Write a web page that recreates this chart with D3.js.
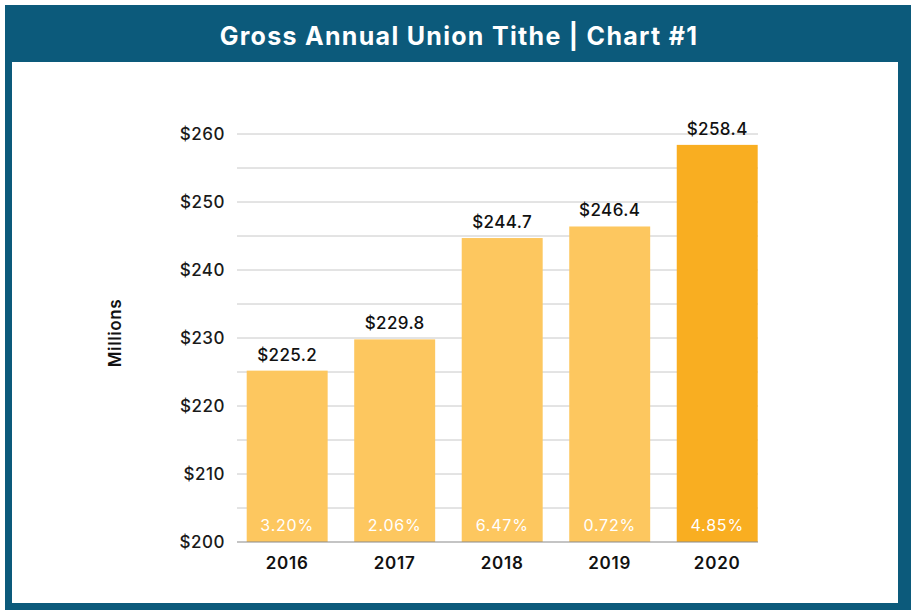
<!DOCTYPE html>
<html>
<head>
<meta charset="utf-8">
<script src="https://cdn.jsdelivr.net/npm/d3@7"></script>
<style>
  body { margin: 0; background: #fff; }
  text { font-family: "Inter", "Open Sans", sans-serif; }
</style>
</head>
<body>
<div id="chart"></div>
<script>
// data
var years = ["2016", "2017", "2018", "2019", "2020"];
var tithe = [225.2, 229.8, 244.7, 246.4, 258.4];
var growth = ["3.20%", "2.06%", "6.47%", "0.72%", "4.85%"];
var yTicks = [200, 210, 220, 230, 240, 250, 260];
var gridTicks = [200, 205, 210, 215, 220, 225, 230, 235, 240, 245, 250, 255, 260];

const W = 911, H = 610;
const plot = {left: 237, right: 758, top: 134, bottom: 542};

var svg = d3.select("#chart").append("svg")
    .attr("width", W)
    .attr("height", H);

// frame + header
svg.append("rect")
    .attr("x", 5).attr("y", 5)
    .attr("width", W - 5).attr("height", H - 5)
    .attr("fill", "#0c5a7b");

svg.append("rect")
    .attr("x", 12).attr("y", 62)
    .attr("width", 886).attr("height", 541)
    .attr("fill", "#fff");

svg.append("text")
    .attr("x", 459).attr("y", 45)
    .attr("text-anchor", "middle")
    .attr("fill", "#fff")
    .style("font-size", "25px")
    .style("font-weight", 700)
    .style("letter-spacing", "1.3px")
    .text("Gross Annual Union Tithe | Chart #1");

var x = d3.scaleBand()
    .domain(years)
    .range([246.7, 757.7])
    .paddingInner(0.247)
    .paddingOuter(0);

var y = d3.scaleLinear()
    .domain([200, 260])
    .range([plot.bottom, plot.top]);

// gridlines
svg.append("g")
  .selectAll("line")
  .data(gridTicks.slice(1))
  .enter().append("line")
    .attr("x1", plot.left).attr("x2", plot.right)
    .attr("y1", function(d) { return y(d); })
    .attr("y2", function(d) { return y(d); })
    .attr("stroke", "#c8c8c8")
    .attr("stroke-width", 1);

// y tick labels
svg.append("g")
  .selectAll("text")
  .data(yTicks)
  .enter().append("text")
    .attr("x", 225)
    .attr("y", function(d) { return y(d); })
    .attr("dy", "0.35em")
    .attr("text-anchor", "end")
    .attr("fill", "#1a1a1a")
    .style("font-size", "17px")
    .style("font-weight", 500)
    .style("letter-spacing", "0.5px")
    .text(function(d) { return "$" + d; });

// bars
var bars = svg.append("g")
  .selectAll("g")
  .data(years)
  .enter().append("g");

bars.append("rect")
    .attr("x", function(d) { return x(d); })
    .attr("width", x.bandwidth())
    .attr("y", function(d, i) { return y(tithe[i]); })
    .attr("height", function(d, i) { return y(200) - y(tithe[i]); })
    .attr("fill", function(d, i) { return i == years.length - 1 ? "#f9ae21" : "#fdc75f"; });

// value above bar
bars.append("text")
    .attr("x", function(d) { return x(d) + x.bandwidth() / 2; })
    .attr("y", function(d, i) { return y(tithe[i]) - 10; })
    .attr("text-anchor", "middle")
    .attr("fill", "#111")
    .style("font-size", "17px")
    .style("font-weight", 500)
    .style("letter-spacing", "0.4px")
    .text(function(d, i) { return "$" + tithe[i].toFixed(1); });

// growth percent inside bar
bars.append("text")
    .attr("x", function(d) { return x(d) + x.bandwidth() / 2; })
    .attr("y", 531)
    .attr("text-anchor", "middle")
    .attr("fill", "#fff")
    .style("font-size", "16px")
    .style("font-weight", 400)
    .style("letter-spacing", "0.8px")
    .text(function(d, i) { return growth[i]; });

// x axis baseline
svg.append("line")
    .attr("x1", plot.left).attr("x2", plot.right)
    .attr("y1", y(200)).attr("y2", y(200))
    .attr("stroke", "#8a8a8a")
    .attr("stroke-width", 1.2);

// year labels
svg.append("g")
  .selectAll("text")
  .data(years)
  .enter().append("text")
    .attr("x", function(d) { return x(d) + x.bandwidth() / 2; })
    .attr("y", 569)
    .attr("text-anchor", "middle")
    .attr("fill", "#111")
    .style("font-size", "17px")
    .style("font-weight", 600)
    .style("letter-spacing", "0.8px")
    .text(function(d) { return d; });

// y axis title
svg.append("text")
    .attr("transform", "translate(121,333) rotate(-90)")
    .attr("text-anchor", "middle")
    .attr("fill", "#111")
    .style("font-size", "17px")
    .style("font-weight", 600)
    .style("letter-spacing", "0.6px")
    .text("Millions");
</script>
</body>
</html>
